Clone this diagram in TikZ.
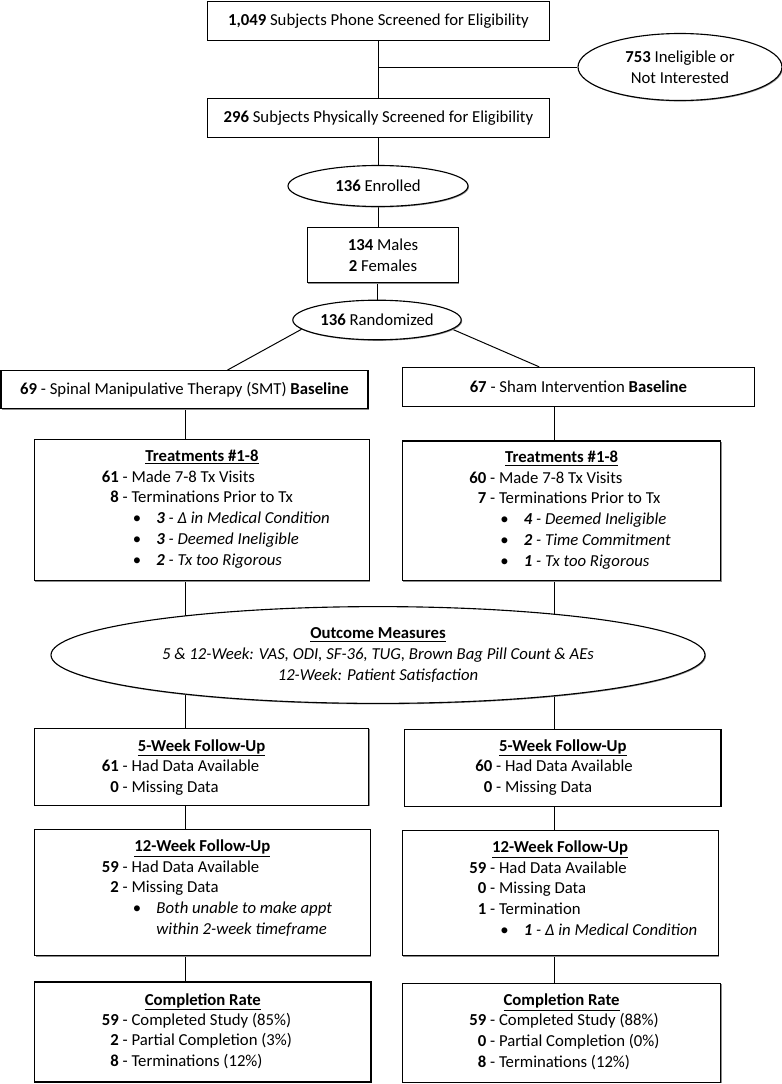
\documentclass[tikz,border=0pt]{standalone}
\usepackage{fontspec}
\setmainfont{Carlito}
\usepackage{tikz}
\usetikzlibrary{shapes.geometric,shadows}
\definecolor{shadegray}{RGB}{140,140,140}
\pgfdeclarelayer{back}
\pgfsetlayers{back,main}

\tikzset{
  box/.style={draw, line width=0.8pt, fill=white, inner sep=0pt,
    drop shadow={shadow xshift=0.7pt, shadow yshift=-0.7pt, fill=shadegray, opacity=1}},
  oval/.style={box, ellipse, align=center},
  link/.style={draw, line width=0.7pt},
  head/.style={anchor=base, inner sep=0pt},
  body/.style={anchor=base west, inner sep=0pt, text width=7.5cm, align=flush left}
}
\newcommand{\nr}[1]{\makebox[0.59cm][r]{\textbf{#1}}}
\newcommand{\bul}{\hspace*{0.94cm}\makebox[0.59cm][l]{\textbullet}}

\begin{document}
\begin{tikzpicture}[font=\fontsize{11.9}{14.8}\selectfont]
    \useasboundingbox (0,0) rectangle (19.55,-27.1);

    % Screening
    \node[box, minimum width=8.54cm, minimum height=0.965cm] (phone) at (9.46,-0.525)
        {\textbf{1,049} Subjects Phone Screened for Eligibility};
    \node[oval, minimum width=5.1cm, minimum height=1.675cm] (inelig) at (17.0,-1.675)
        {\textbf{753} Ineligible or\\Not Interested};
    \node[box, minimum width=8.54cm, minimum height=0.965cm] (phys) at (9.46,-2.95)
        {\textbf{296} Subjects Physically Screened for Eligibility};

    % Enrolment
    \node[oval, minimum width=4.5cm, minimum height=1.025cm] (enrol) at (9.45,-4.65)
        {\textbf{136} Enrolled};
    \node[box, align=center, minimum width=3.775cm, minimum height=1.37cm] (sex) at (9.575,-6.38)
        {\textbf{134} Males\\\textbf{2} Females};
    \node[oval, minimum width=4.21cm, minimum height=0.99cm] (rand) at (9.425,-8.0)
        {\textbf{136} Randomized};

    % Baseline
    \node[box, minimum width=9.175cm, minimum height=0.95cm] (smt) at (4.6125,-9.74)
        {\textbf{69} - Spinal Manipulative Therapy (SMT) \textbf{Baseline}\hspace{0.33cm}};
    \node[box, minimum width=8.79cm, minimum height=0.97cm] (sham) at (14.46,-9.67)
        {\textbf{67} - Sham Intervention \textbf{Baseline}};

    % Treatments
    \node[box, minimum width=8.375cm, minimum height=3.53cm] (treatA) at (5.05,-12.75) {};
    \node[head] (treatAh) at (5.05,-11.54) {\underline{\textbf{Treatments \#1-8}}};
    \node[body] (treatAb) at (2.375,-12.05) {\nr{61} - Made 7-8 Tx Visits\\
        \nr{8} - Terminations Prior to Tx\\
        \bul\textit{\textbf{3} - Δ in Medical Condition}\\
        \bul\textit{\textbf{3} - Deemed Ineligible}\\
        \bul\textit{\textbf{2} - Tx too Rigorous}};

    \node[box, minimum width=7.96cm, minimum height=3.49cm] (treatB) at (14.04,-12.77) {};
    \node[head] (treatBh) at (14.04,-11.57) {\underline{\textbf{Treatments \#1-8}}};
    \node[body] (treatBb) at (11.5625,-12.075) {\nr{60} - Made 7-8 Tx Visits\\
        \nr{7} - Terminations Prior to Tx\\
        \bul\textit{\textbf{4} - Deemed Ineligible}\\
        \bul\textit{\textbf{2} - Time Commitment}\\
        \bul\textit{\textbf{1} - Tx too Rigorous}};

    % Outcome measures
    \node[oval, minimum width=16.35cm, minimum height=2.42cm] (outcome) at (9.45,-16.375)
        {\underline{\textbf{Outcome Measures}}\\
         \textit{5 \& 12-Week: VAS, ODI, SF-36, TUG, Brown Bag Pill Count \& AEs}\\
         \textit{12-Week: Patient Satisfaction}};

    % 5-week follow-up
    \node[box, minimum width=8.36cm, minimum height=1.92cm] (fuA) at (5.04,-19.17) {};
    \node[head] (fuAh) at (5.04,-18.775) {\underline{\textbf{5-Week Follow-Up}}};
    \node[body] (fuAb) at (2.375,-19.28) {\nr{61} - Had Data Available\\
        \nr{0} - Missing Data};

    \node[box, minimum width=7.91cm, minimum height=1.925cm] (fuB) at (14.07,-19.19) {};
    \node[head] (fuBh) at (14.07,-18.775) {\underline{\textbf{5-Week Follow-Up}}};
    \node[body] (fuBb) at (11.7125,-19.28) {\nr{60} - Had Data Available\\
        \nr{0} - Missing Data};

    % 12-week follow-up
    \node[box, minimum width=8.39cm, minimum height=3.15cm] (twA) at (5.06,-22.32) {};
    \node[head] (twAh) at (5.06,-21.29) {\underline{\textbf{12-Week Follow-Up}}};
    \node[body] (twAb) at (2.375,-21.8) {\nr{59} - Had Data Available\\
        \nr{2} - Missing Data\\
        \bul\textit{Both unable to make appt}\\
        \hspace*{1.53cm}\textit{within 2-week timeframe}};

    \node[box, minimum width=7.9cm, minimum height=3.135cm] (twB) at (14.01,-22.325) {};
    \node[head] (twBh) at (14.0,-21.32) {\underline{\textbf{12-Week Follow-Up}}};
    \node[body] (twBb) at (11.5625,-21.825) {\nr{59} - Had Data Available\\
        \nr{0} - Missing Data\\
        \nr{1} - Termination\\
        \bul\textit{\textbf{1} - Δ in Medical Condition}};

    % Completion
    \node[box, minimum width=8.41cm, minimum height=2.5cm] (crA) at (5.07,-25.8) {};
    \node[head] (crAh) at (5.07,-25.125) {\underline{\textbf{Completion Rate}}};
    \node[body] (crAb) at (2.375,-25.625) {\nr{59} - Completed Study (85\%)\\
        \nr{2} - Partial Completion (3\%)\\
        \nr{8} - Terminations (12\%)};

    \node[box, minimum width=7.96cm, minimum height=2.47cm] (crB) at (14.04,-25.82) {};
    \node[head] (crBh) at (14.04,-25.14) {\underline{\textbf{Completion Rate}}};
    \node[body] (crBb) at (11.5625,-25.64) {\nr{59} - Completed Study (88\%)\\
        \nr{0} - Partial Completion (0\%)\\
        \nr{8} - Terminations (12\%)};

    % Connectors, behind the white boxes
    \coordinate (split) at (phone.south |- inelig.west);
    \coordinate (colL) at (4.6375,0);
    \coordinate (colR) at (13.86,0);
    \begin{pgfonlayer}{back}
    \draw[link] (phone.south) -- (phys.north);
    \draw[link] (split) -- (inelig.west);
    \draw[link] (phys.south) -- (phys.south |- enrol.north);
    \draw[link] (enrol.south) -- (enrol.south |- sex.north);
    \draw[link] (rand.north |- sex.south) -- (rand.north);
    \draw[link] (rand.187) -- ([xshift=1.075cm]smt.north);
    \draw[link] (rand.353) -- ([xshift=-0.98cm]sham.north);
    \draw[link] (smt.south -| colL) -- (treatA.north -| colL);
    \draw[link] (sham.south -| colR) -- (treatB.north -| colR);
    \draw[link] (treatA.south -| colL) -- (fuA.north -| colL);
    \draw[link] (treatB.south -| colR) -- (fuB.north -| colR);
    \draw[link] (fuA.south -| colL) -- (twA.north -| colL);
    \draw[link] (fuB.south -| colR) -- (twB.north -| colR);
    \draw[link] (twA.south -| colL) -- (crA.north -| colL);
    \draw[link] (twB.south -| colR) -- (crB.north -| colR);
    \end{pgfonlayer}
\end{tikzpicture}
\end{document}
